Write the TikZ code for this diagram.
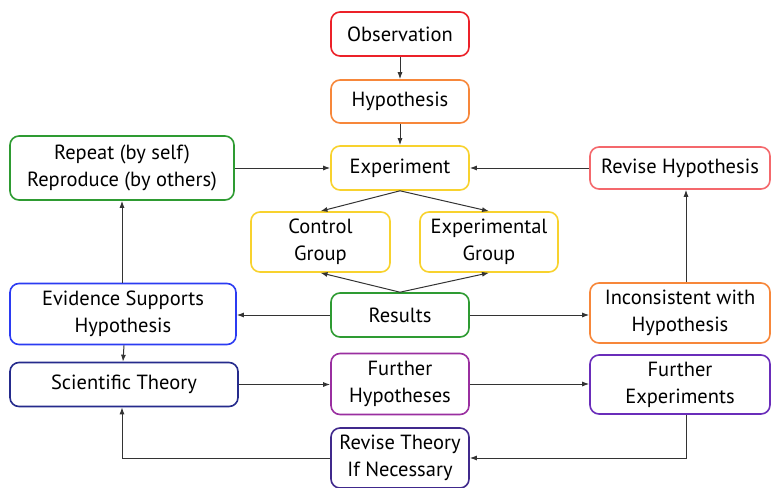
\documentclass[tikz,border=0pt]{standalone}
\usepackage{fontspec}
\setmainfont{PT Sans}
\usepackage{tikz}
\usetikzlibrary{arrows.meta,positioning}

\definecolor{cRed}{HTML}{EC2129}
\definecolor{cOrange}{HTML}{F7873A}
\definecolor{cYellow}{HTML}{F8D22E}
\definecolor{cGreen}{HTML}{2E9B32}
\definecolor{cPink}{HTML}{F4686C}
\definecolor{cBlue}{HTML}{2B3BF2}
\definecolor{cNavy}{HTML}{252B8C}
\definecolor{cMagenta}{HTML}{9A2FA0}
\definecolor{cViolet}{HTML}{6A2DBA}
\definecolor{cIndigo}{HTML}{40298C}

\begin{document}
\begin{tikzpicture}[x=1pt,y=-1pt]
\tikzstyle{box}=[rectangle,draw,line width=1.6pt,rounded corners=9pt,fill=white,align=center,inner sep=0pt,font=\fontsize{20.5}{27}\selectfont]
\tikzstyle{link}=[draw=black!80,line width=1pt,-{Latex[length=7pt,width=5pt]}]

\useasboundingbox (0,0) rectangle (773,487);

\node[box,draw=cRed,minimum width=138,minimum height=44] (obs) at (400,34) {Observation};
\node[box,draw=cOrange,minimum width=138,minimum height=43] (hyp) at (400,101.5) {Hypothesis};
\node[box,draw=cYellow,minimum width=138,minimum height=44] (exp) at (400,168) {Experiment};
\node[box,draw=cGreen,minimum width=224,minimum height=64] (rep) at (122,168) {Repeat (by self)\\Reproduce (by others)};
\node[box,draw=cPink,minimum width=180,minimum height=42] (revh) at (680,168) {Revise Hypothesis};
\node[box,draw=cYellow,minimum width=139,minimum height=60] (ctrl) at (320.5,242) {Control\\Group};
\node[box,draw=cYellow,minimum width=138,minimum height=60] (expg) at (489,242) {Experimental\\Group};
\node[box,draw=cBlue,minimum width=226,minimum height=61] (evid) at (123,314) {Evidence Supports\\Hypothesis};
\node[box,draw=cGreen,minimum width=138,minimum height=44] (res) at (400,315) {Results};
\node[box,draw=cOrange,minimum width=180,minimum height=60] (inc) at (680,313) {Inconsistent with\\Hypothesis};
\node[box,draw=cNavy,minimum width=228,minimum height=44] (sci) at (124,384.5) {Scientific Theory};
\node[box,draw=cMagenta,minimum width=138,minimum height=61] (fhyp) at (400,384) {Further\\Hypotheses};
\node[box,draw=cViolet,minimum width=180,minimum height=59] (fexp) at (680,384.5) {Further\\Experiments};
\node[box,draw=cIndigo,minimum width=138,minimum height=60] (revt) at (400,458) {Revise Theory\\If Necessary};

% main line
\draw[link] (obs) -- (hyp);
\draw[link] (hyp) -- (exp);
\draw[link] (rep) -- (exp);
\draw[link] (revh) -- (exp);
\draw[link] (exp.south) -- (ctrl.north);
\draw[link] (exp.south) -- (expg.north);
\draw[link] (res.north) -- (ctrl.south);
\draw[link] (res.north) -- (expg.south);
\draw[link] (res.west) -- (res.west -| evid.east);
\draw[link] (res.east) -- (res.east -| inc.west);
% sides
\draw[link] (evid.north -| rep.south) -- (rep.south);
\draw[link] (evid.south -| sci.north) -- (sci.north -| evid.south);
\draw[link] ([xshift=6pt]inc.north) -- ([xshift=6pt]revh.south);
% theory loop
\draw[link] (sci.east) -- (sci.east -| fhyp.west);
\draw[link] (fhyp.east) -- (fhyp.east -| fexp.west);
\draw[link] ([xshift=6pt]fexp.south) |- (revt.east);
\draw[link] (revt.west) -| ([xshift=-2pt]sci.south);
\end{tikzpicture}
\end{document}
